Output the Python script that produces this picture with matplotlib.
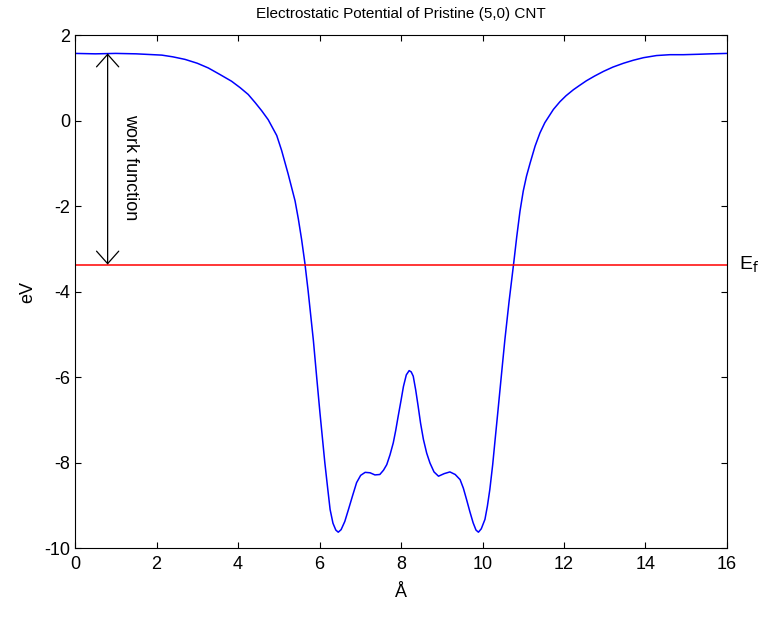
import matplotlib
matplotlib.use("Agg")
import matplotlib.pyplot as plt
import numpy as np

plt.rcParams.update({
    "font.family": ["Liberation Sans Narrow", "Liberation Sans", "DejaVu Sans"],
    "axes.unicode_minus": False,
    "xtick.direction": "in", "ytick.direction": "in",
    "xtick.top": True, "ytick.right": True,
})

# potential profile (angstrom, eV)
x_pos = [0.0, 0.5, 1.0, 1.5, 2.13, 2.4, 2.7, 3.0, 3.27, 3.55, 3.84, 4.05,
         4.25, 4.42, 4.58, 4.74, 4.95, 5.07, 5.23, 5.40, 5.48, 5.56, 5.64,
         5.72, 5.85, 5.93, 6.01, 6.13, 6.20, 6.26, 6.33, 6.40, 6.46, 6.53,
         6.62, 6.71, 6.81, 6.91, 7.01, 7.12, 7.24, 7.36, 7.48, 7.57, 7.65,
         7.73, 7.81, 7.87, 7.93, 8.00, 8.06, 8.13, 8.20, 8.25, 8.30, 8.36,
         8.42, 8.48, 8.55, 8.63, 8.71, 8.81, 8.92, 9.06, 9.20, 9.33, 9.45,
         9.53, 9.61, 9.69, 9.77, 9.84, 9.90, 9.97, 10.06, 10.12, 10.18,
         10.25, 10.31, 10.37, 10.43, 10.49, 10.55, 10.65, 10.77, 10.84,
         10.92, 11.00, 11.08, 11.17, 11.29, 11.41, 11.53, 11.74, 11.90,
         12.05, 12.23, 12.38, 12.55, 12.75, 12.97, 13.2, 13.46, 13.7, 13.95,
         14.27, 14.6, 14.93, 15.3, 15.6, 16.0]
potential = [1.57, 1.56, 1.57, 1.56, 1.53, 1.49, 1.43, 1.34, 1.23, 1.08,
             0.92, 0.77, 0.61, 0.42, 0.23, 0.02, -0.35, -0.70, -1.25, -1.88,
             -2.30, -2.78, -3.33, -3.98, -5.15, -6.00, -6.83, -8.00, -8.60,
             -9.10, -9.42, -9.58, -9.63, -9.57, -9.38, -9.10, -8.78, -8.47,
             -8.30, -8.23, -8.24, -8.29, -8.28, -8.18, -8.05, -7.82, -7.54,
             -7.25, -6.92, -6.55, -6.22, -5.95, -5.85, -5.88, -5.98, -6.30,
             -6.68, -7.08, -7.46, -7.78, -8.01, -8.22, -8.32, -8.26, -8.22,
             -8.28, -8.40, -8.60, -8.87, -9.15, -9.41, -9.58, -9.63, -9.55,
             -9.33, -9.02, -8.63, -8.05, -7.46, -6.88, -6.29, -5.70, -5.12,
             -4.25, -3.30, -2.72, -2.12, -1.65, -1.30, -0.99, -0.60, -0.29,
             -0.05, 0.26, 0.44, 0.58, 0.72, 0.82, 0.93, 1.04, 1.15, 1.25, 1.34,
             1.41, 1.47, 1.52, 1.54, 1.54, 1.55, 1.56, 1.57]
fermi_level = -3.37
vacuum_level = 1.57
arrow_x = 0.8

fig = plt.figure(figsize=(7.61, 6.2), dpi=100)
ax = fig.add_axes([0.0986, 0.1161, 0.8567, 0.8274])

ax.plot(x_pos, potential, color="blue", lw=1.1)
ax.axhline(fermi_level, color="red", lw=1.1)

ax.annotate("", xy=(arrow_x, fermi_level), xytext=(arrow_x, vacuum_level),
            arrowprops=dict(arrowstyle="<->,head_length=0.45,head_width=0.4",
                            color="black", lw=0.9, mutation_scale=20,
                            shrinkA=0, shrinkB=0))
ax.text(1.35, -1.08, "work function", rotation=270,
        ha="center", va="center", fontsize=13)
ax.text(16.3, fermi_level, r"E$_\mathrm{f}$", ha="left", va="center",
        fontsize=14, clip_on=False)

ax.set_xlim(0, 16)
ax.set_ylim(-10, 2)
ax.set_xticks(np.arange(0, 17, 2))
ax.set_yticks(np.arange(-10, 3, 2))
ax.tick_params(labelsize=13, length=4, width=0.8)
ax.tick_params(axis="x", pad=6)
ax.set_xlabel("Å", fontsize=13, labelpad=8)
ax.set_ylabel("eV", fontsize=13, labelpad=6)
ax.set_title("Electrostatic Potential of Pristine (5,0) CNT", fontsize=11,
             pad=12)

fig.savefig("out.png", dpi=100)
